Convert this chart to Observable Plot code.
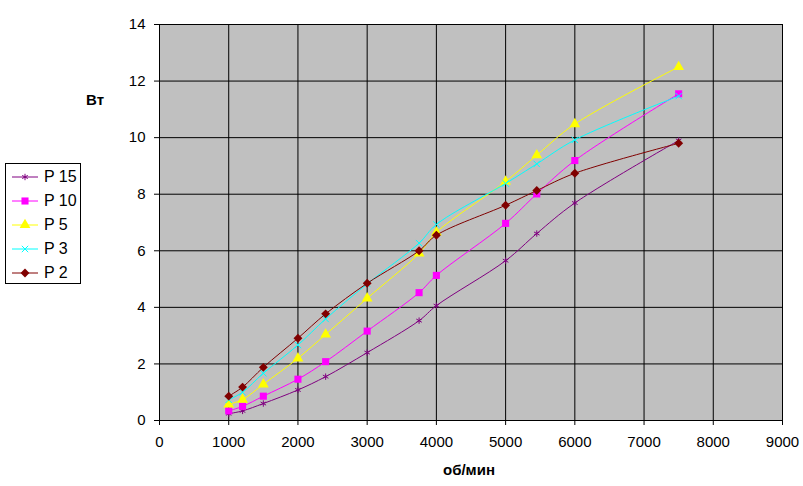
<!DOCTYPE html>
<html>
<head>
<meta charset="utf-8">
<script src="https://cdn.jsdelivr.net/npm/d3@7"></script>
<script src="https://cdn.jsdelivr.net/npm/@observablehq/plot@0.6"></script>
<style>
  body { margin: 0; background: #fff; font-family: "Liberation Sans", Arial, sans-serif; }
  #wrap { position: relative; width: 803px; height: 486px; }
  #legend { position: absolute; left: 5px; top: 163px; width: 74px; height: 119px; border: 1px solid #000; background: #fff; }
  .item { position: absolute; left: 5px; height: 20px; display: flex; align-items: center; font-size: 16px; color: #000; }
  .item svg { margin-right: 5px; }
  .lbl { position: absolute; font-weight: bold; font-size: 15px; color: #000; }
</style>
</head>
<body>
<div id="wrap">
  <div id="chart"></div>
  <div id="legend"></div>
</div>
<script>
const rpm = [1000, 1200, 1500, 2000, 2400, 3000, 3750, 4000, 5000, 5450, 6000, 7500];
const p15 = [0.24, 0.34, 0.60, 1.08, 1.55, 2.40, 3.53, 4.06, 5.65, 6.61, 7.69, 9.90];
const p10 = [0.34, 0.50, 0.86, 1.46, 2.08, 3.16, 4.52, 5.13, 6.97, 8.01, 9.19, 11.55];
const p5  = [0.57, 0.74, 1.28, 2.20, 3.04, 4.32, 5.91, 6.65, 8.45, 9.38, 10.48, 12.50];
const p3  = [0.73, 1.00, 1.67, 2.67, 3.59, 4.83, 6.27, 6.93, 8.38, 9.07, 9.92, 11.47];
const p2  = [0.86, 1.18, 1.88, 2.91, 3.77, 4.85, 6.00, 6.55, 7.61, 8.13, 8.74, 9.80];
const seriesNames = ["P 15", "P 10", "P 5", "P 3", "P 2"];
const seriesValues = [p15, p10, p5, p3, p2];
const seriesColors = ["#800080", "#ff00ff", "#ffff00", "#00ffff", "#800000"];
const seriesSymbols = ["asterisk", "square", "triangle", "times", "diamond2"];
const xTicks = [0, 1000, 2000, 3000, 4000, 5000, 6000, 7000, 8000, 9000];
const yTicks = [0, 2, 4, 6, 8, 10, 12, 14];
const xLabel = "об/мин";
const yLabel = "Вт";

const rows = [];
seriesNames.forEach((name, i) => {
  rpm.forEach((x, j) => rows.push({series: name, x, y: seriesValues[i][j], idx: i}));
});

const font = '"Liberation Sans", Arial, sans-serif';
const isFilled = s => s === "square" || s === "triangle" || s === "diamond2";
const symR = {asterisk: 3, square: 4, triangle: 4, times: 3, diamond2: 4};
const marks = [
  Plot.frame({fill: "#c0c0c0", stroke: null}),
  Plot.gridX(xTicks, {stroke: "#000", strokeOpacity: 1, strokeWidth: 1}),
  Plot.gridY(yTicks, {stroke: "#000", strokeOpacity: 1, strokeWidth: 1}),
  Plot.axisX(xTicks, {tickSize: 5, tickPadding: 11, fontSize: 15, fontFamily: font, label: null, stroke: "#000", fill: "#000", tickFormat: d => String(d)}),
  Plot.axisY(yTicks, {tickSize: 5, tickPadding: 9, fontSize: 15, fontFamily: font, label: null, stroke: "#000", fill: "#000", tickFormat: d => String(d)}),
  Plot.ruleX([0], {stroke: "#000"}),
  Plot.ruleY([0], {stroke: "#000"})
];
seriesNames.forEach((name, i) => {
  const data = rows.filter(d => d.series === name);
  const s = seriesSymbols[i];
  marks.push(Plot.line(data, {x: "x", y: "y", stroke: seriesColors[i], strokeWidth: 1, curve: "catmull-rom"}));
  marks.push(Plot.dot(data, isFilled(s)
    ? {x: "x", y: "y", symbol: () => s, r: symR[s], fill: seriesColors[i], stroke: null}
    : {x: "x", y: "y", symbol: () => s, r: symR[s], stroke: seriesColors[i], strokeWidth: 1, fill: "none"}));
});

const chart = Plot.plot({
  width: 803,
  height: 486,
  marginLeft: 159,
  marginRight: 21,
  marginTop: 24,
  marginBottom: 66,
  style: {background: "transparent", fontFamily: font, overflow: "visible"},
  x: {domain: [0, 9000], ticks: xTicks},
  y: {domain: [0, 14], ticks: yTicks},
  symbol: {type: "identity"},
  marks
});
document.getElementById("chart").appendChild(chart);

const wrap = document.getElementById("wrap");
const xl = document.createElement("div");
xl.className = "lbl"; xl.textContent = xLabel;
xl.style.left = "443px"; xl.style.top = "461px";
wrap.appendChild(xl);
const yl = document.createElement("div");
yl.className = "lbl"; yl.textContent = yLabel;
yl.style.left = "86px"; yl.style.top = "91px";
wrap.appendChild(yl);

const legend = document.getElementById("legend");
const symMap = {asterisk: d3.symbolAsterisk, square: d3.symbolSquare, triangle: d3.symbolTriangle, times: d3.symbolTimes, diamond2: d3.symbolDiamond2};
seriesNames.forEach((name, i) => {
  const item = document.createElement("div");
  item.className = "item";
  item.style.top = (3 + i * 23.9) + "px";
  const sym = seriesSymbols[i];
  const filled = isFilled(sym);
  const path = d3.symbol(symMap[sym], symR[sym] * symR[sym] * Math.PI)();
  item.innerHTML = `<svg width="28" height="14"><line x1="1" x2="27" y1="7" y2="7" stroke="${seriesColors[i]}" stroke-width="1"/>` +
    `<path transform="translate(14,7)" d="${path}" fill="${filled ? seriesColors[i] : "none"}" stroke="${filled ? "none" : seriesColors[i]}"/></svg><span>${name}</span>`;
  legend.appendChild(item);
});
</script>
</body>
</html>
